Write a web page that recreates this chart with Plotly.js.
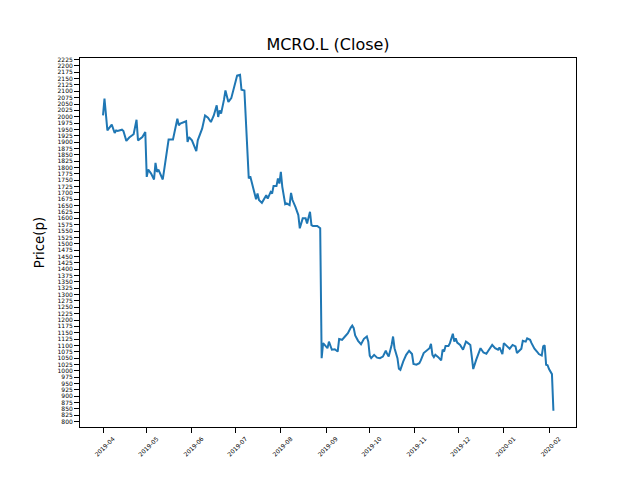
<!DOCTYPE html>
<html>
<head>
<meta charset="utf-8">
<script src="https://cdn.plot.ly/plotly-3.0.1.min.js"></script>
<style>html,body{margin:0;padding:0;background:#fff;}</style>
</head>
<body>
<div id="chart" style="width:640px;height:480px;"></div>
<script>
const dates = [
"2019-04-01","2019-04-02","2019-04-04","2019-04-06","2019-04-07","2019-04-09","2019-04-10","2019-04-11","2019-04-14","2019-04-15",
"2019-04-17","2019-04-19","2019-04-22","2019-04-24","2019-04-25","2019-04-28","2019-04-30","2019-05-01","2019-05-02","2019-05-04",
"2019-05-06","2019-05-07","2019-05-08","2019-05-09","2019-05-11","2019-05-12","2019-05-16","2019-05-19","2019-05-22","2019-05-23",
"2019-05-24","2019-05-28","2019-05-29","2019-05-30","2019-06-01","2019-06-04","2019-06-05","2019-06-08","2019-06-10","2019-06-12",
"2019-06-14","2019-06-16","2019-06-18","2019-06-19","2019-06-20","2019-06-21","2019-06-23","2019-06-24","2019-06-26","2019-06-28",
"2019-07-01","2019-07-02","2019-07-04","2019-07-05","2019-07-07","2019-07-10","2019-07-11","2019-07-12","2019-07-15","2019-07-16",
"2019-07-17","2019-07-19","2019-07-21","2019-07-22","2019-07-23","2019-07-25","2019-07-26","2019-07-27","2019-07-29","2019-07-30",
"2019-07-31","2019-08-01","2019-08-02","2019-08-04","2019-08-05","2019-08-07","2019-08-08","2019-08-09","2019-08-11","2019-08-13",
"2019-08-14","2019-08-15","2019-08-16","2019-08-18","2019-08-19","2019-08-21","2019-08-22","2019-08-23","2019-08-26","2019-08-28",
"2019-08-29","2019-08-30","2019-08-31","2019-09-02","2019-09-03","2019-09-05","2019-09-07","2019-09-09","2019-09-10","2019-09-12",
"2019-09-14","2019-09-16","2019-09-18","2019-09-19","2019-09-20","2019-09-21","2019-09-23","2019-09-25","2019-09-27","2019-09-29",
"2019-09-30","2019-10-01","2019-10-02","2019-10-04","2019-10-06","2019-10-08","2019-10-10","2019-10-12","2019-10-13","2019-10-14",
"2019-10-16","2019-10-17","2019-10-18","2019-10-20","2019-10-21","2019-10-22","2019-10-24","2019-10-26","2019-10-28","2019-10-30",
"2019-10-31","2019-11-02","2019-11-04","2019-11-05","2019-11-07","2019-11-09","2019-11-11","2019-11-12","2019-11-13","2019-11-14",
"2019-11-15","2019-11-17","2019-11-19","2019-11-20","2019-11-21","2019-11-22","2019-11-24","2019-11-25","2019-11-27","2019-11-28",
"2019-11-29","2019-11-30","2019-12-02","2019-12-04","2019-12-05","2019-12-06","2019-12-07","2019-12-09","2019-12-10","2019-12-11",
"2019-12-13","2019-12-15","2019-12-16","2019-12-18","2019-12-20","2019-12-21","2019-12-24","2019-12-26","2019-12-28","2019-12-29",
"2019-12-31","2020-01-01","2020-01-03","2020-01-05","2020-01-07","2020-01-09","2020-01-10","2020-01-11","2020-01-13","2020-01-14",
"2020-01-16","2020-01-17","2020-01-19","2020-01-20","2020-01-22","2020-01-24","2020-01-25","2020-01-27","2020-01-28","2020-01-29",
"2020-01-30","2020-01-31","2020-02-01","2020-02-03","2020-02-04"
];
const closePrices = [
2005,2071,1946,1959,1969,1936,1946,1944,1949,1944,
1905,1918,1931,1988,1907,1920,1940,1763,1792,1776,
1753,1818,1783,1792,1770,1753,1910,1910,1992,1966,
1973,1982,1901,1920,1907,1865,1907,1953,2005,1996,
1979,2005,2045,1999,2025,2012,2067,2103,2058,2073,
2140,2162,2165,2106,2103,1757,1766,1743,1675,1698,
1672,1661,1678,1691,1678,1704,1698,1727,1727,1757,
1737,1783,1724,1656,1659,1652,1700,1672,1645,1613,
1561,1580,1600,1600,1580,1626,1573,1570,1570,1561,
1050,1109,1102,1089,1115,1083,1085,1076,1125,1122,
1135,1148,1170,1178,1168,1139,1118,1105,1126,1135,
1115,1060,1050,1063,1052,1050,1056,1079,1066,1056,
1102,1135,1089,1050,1008,1004,1037,1063,1079,1066,
1027,1024,1030,1041,1070,1080,1089,1106,1063,1054,
1063,1054,1041,1083,1076,1098,1098,1109,1146,1115,
1128,1111,1102,1083,1096,1115,1111,1102,1056,1007,
1043,1070,1089,1072,1067,1076,1102,1089,1083,1092,
1066,1109,1096,1087,1102,1096,1070,1076,1087,1118,
1115,1128,1122,1109,1087,1074,1066,1060,1096,1100,
1024,1022,1007,987,843
];
const xTickVals = ["2019-04-01","2019-05-01","2019-06-01","2019-07-01","2019-08-01","2019-09-01","2019-10-01","2019-11-01","2019-12-01","2020-01-01","2020-02-01"];
const xTickText = ["2019-04","2019-05","2019-06","2019-07","2019-08","2019-09","2019-10","2019-11","2019-12","2020-01","2020-02"];

const trace = {
  x: dates, y: closePrices, type: 'scatter', mode: 'lines',
  line: {color: '#1f77b4', width: 2}, hoverinfo: 'skip'
};
const layout = {
  width: 640, height: 480,
  margin: {l: 80, r: 64, t: 58, b: 53, pad: 0},
  paper_bgcolor: '#fff', plot_bgcolor: '#fff',
  font: {family: 'DejaVu Sans, sans-serif', color: '#000'},
  showlegend: false,
  title: {text: 'MCRO.L (Close)', font: {size: 16, family: 'DejaVu Sans'}, x: 0.5, xanchor: 'center', xref: 'paper', y: 1 - 44/480, yref: 'container', yanchor: 'middle'},
  xaxis: {
    type: 'date', range: ['2019-03-16 05:00', '2020-02-19 12:00'],
    tickmode: 'array', tickvals: xTickVals, ticktext: xTickText, tickangle: -45,
    tickfont: {size: 6, family: 'DejaVu Sans'},
    ticks: 'outside', ticklen: 5, tickwidth: 1, tickcolor: '#000',
    showline: true, linecolor: '#000', linewidth: 1, mirror: true,
    showgrid: false, zeroline: false, automargin: false, ticklabelshift: 10
  },
  yaxis: {
    range: [779, 2231], tickmode: 'linear', tick0: 800, dtick: 25,
    tickfont: {size: 6, family: 'DejaVu Sans'},
    ticks: 'outside', ticklen: 5, tickwidth: 1, tickcolor: '#000',
    showline: true, linecolor: '#000', linewidth: 1, mirror: true,
    showgrid: false, zeroline: false, automargin: false,
    title: {text: 'Price(p)', font: {size: 13.3, family: 'DejaVu Sans'}, standoff: 9}
  }
};
Plotly.newPlot('chart', [trace], layout, {staticPlot: true, displayModeBar: false});
</script>
</body>
</html>
